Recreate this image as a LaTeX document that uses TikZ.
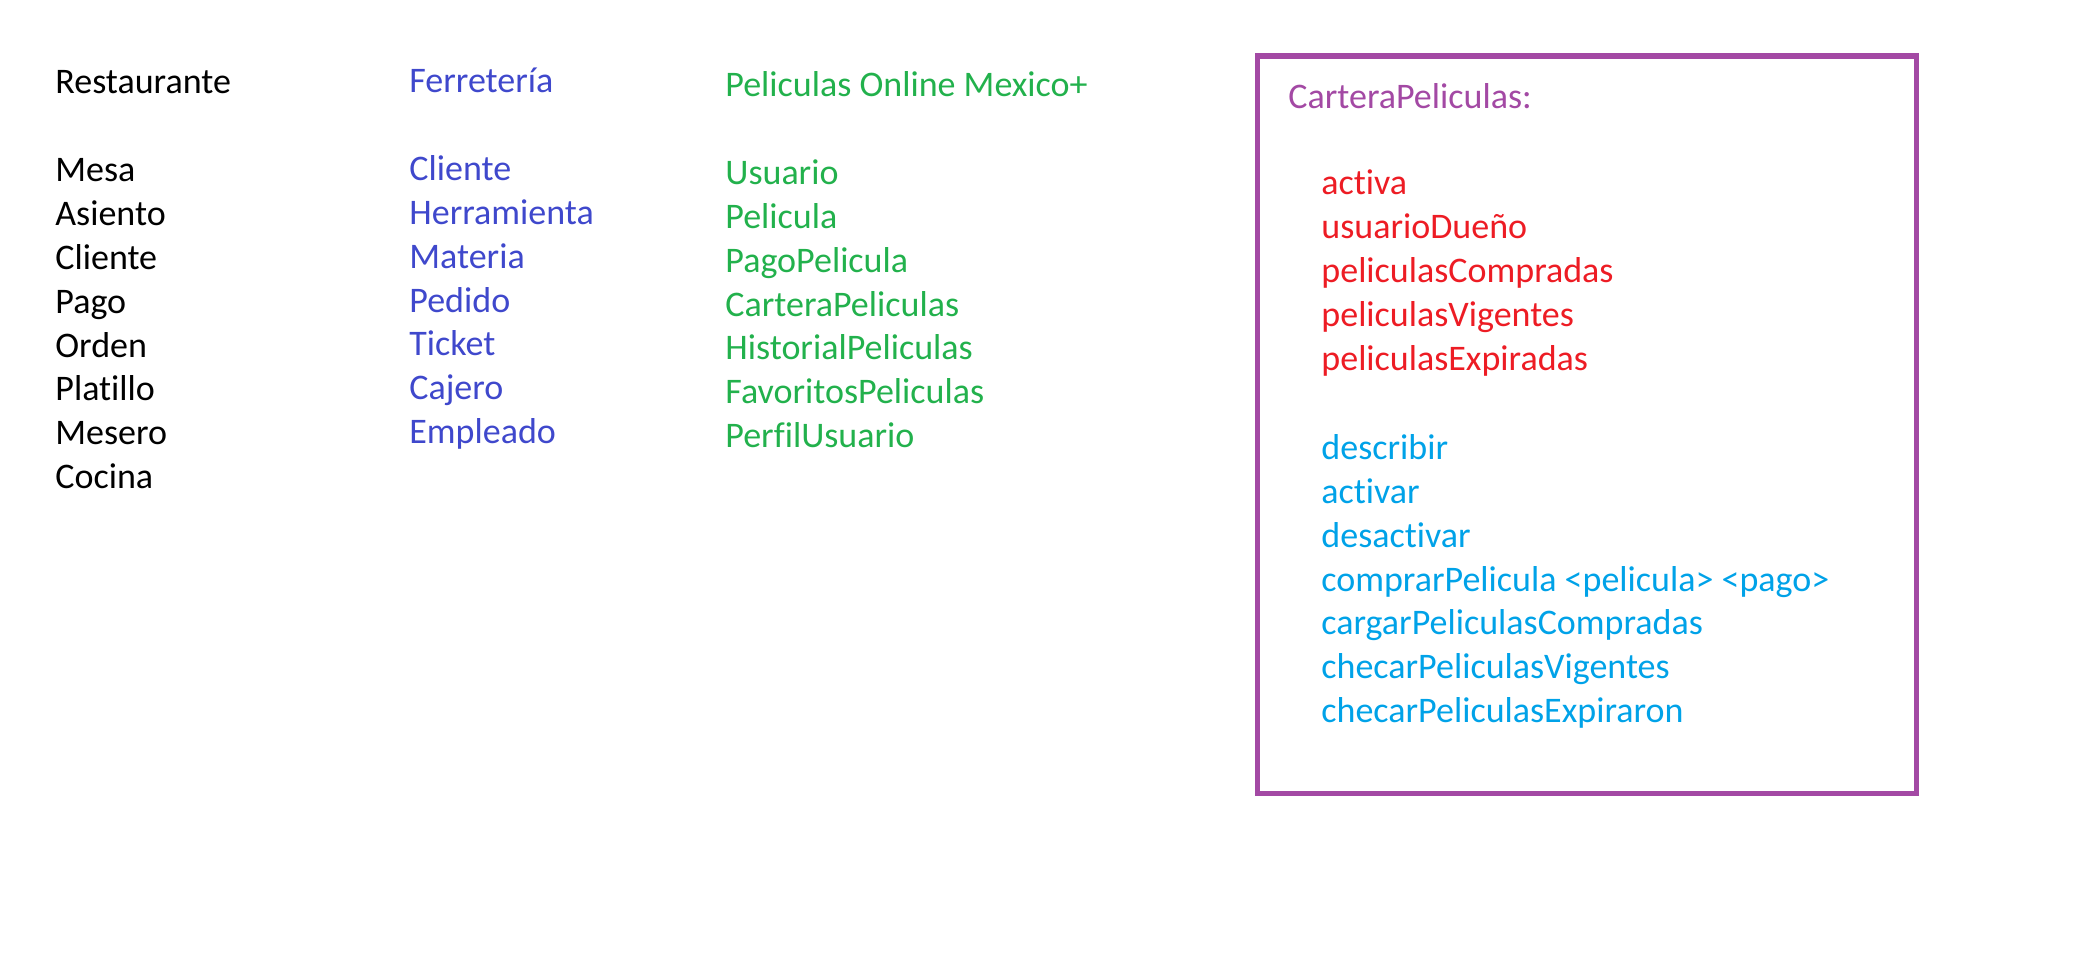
\documentclass[tikz,border=0pt]{standalone}
\usepackage{fontspec}
\setmainfont{Carlito}[Ligatures=NoCommon]
\usetikzlibrary{positioning}
\definecolor{ferreblue}{HTML}{3F48CC}
\definecolor{pelisgreen}{HTML}{22B14C}
\definecolor{attrred}{HTML}{ED1C24}
\definecolor{methodblue}{HTML}{00A2E8}
\definecolor{boxpurple}{HTML}{A349A4}

\begin{document}
\begin{tikzpicture}[x=0.5pt,y=-0.5pt]
\tikzset{
  word/.style={anchor=base west,inner sep=0pt,font=\fontsize{18}{22}\selectfont},
  resto/.style={word,text=black},
  ferre/.style={word,text=ferreblue},
  pelis/.style={word,text=pelisgreen},
  attr/.style={word,text=attrred},
  method/.style={word,text=methodblue},
  classbox/.style={draw=boxpurple,line width=2.6pt}
}
\useasboundingbox (0,0) rectangle (2075,958);
% Restaurante
\node[resto] (r_title) at (55,93) {Restaurante};
\node[resto] (r_mesa) at (55,181.4) {Mesa};
\node[resto] (r_asiento) at (55,225.3) {Asiento};
\node[resto] (r_cliente) at (55,269.2) {Cliente};
\node[resto] (r_pago) at (55,313.1) {Pago};
\node[resto] (r_orden) at (55,357.0) {Orden};
\node[resto] (r_platillo) at (55,400.9) {Platillo};
\node[resto] (r_mesero) at (55,444.8) {Mesero};
\node[resto] (r_cocina) at (55,488.7) {Cocina};
% Ferreteria
\node[ferre] (f_title) at (409,92) {Ferretería};
\node[ferre] (f_cliente) at (409,180.3) {Cliente};
\node[ferre] (f_herramienta) at (409,224.2) {Herramienta};
\node[ferre] (f_materia) at (409,268.1) {Materia};
\node[ferre] (f_pedido) at (409,312.0) {Pedido};
\node[ferre] (f_ticket) at (409,355.9) {Ticket};
\node[ferre] (f_cajero) at (409,399.8) {Cajero};
\node[ferre] (f_empleado) at (409,443.7) {Empleado};
% Peliculas
\node[pelis] (p_title) at (725,96.3) {Peliculas Online Mexico+};
\node[pelis] (p_usuario) at (725,184.3) {Usuario};
\node[pelis] (p_pelicula) at (725,228.2) {Pelicula};
\node[pelis] (p_pago) at (725,272.1) {PagoPelicula};
\node[pelis] (p_cartera) at (725,316.0) {CarteraPeliculas};
\node[pelis] (p_historial) at (725,359.9) {HistorialPeliculas};
\node[pelis] (p_favoritos) at (725,403.8) {FavoritosPeliculas};
\node[pelis] (p_perfil) at (725,447.7) {PerfilUsuario};
% CarteraPeliculas
\draw[classbox] (1257.5,56) rectangle (1916.5,793.5);
\node[word,text=boxpurple] (c_title) at (1288,108.6) {CarteraPeliculas:};
\node[attr] (c_activa) at (1321,194.6) {activa};
\node[attr] (c_dueno) at (1321,238.6) {usuarioDueño};
\node[attr] (c_compradas) at (1321,282.6) {peliculasCompradas};
\node[attr] (c_vigentes) at (1321,326.6) {peliculasVigentes};
\node[attr] (c_expiradas) at (1321,370.6) {peliculasExpiradas};
\node[method] (m_describir) at (1321,459.3) {describir};
\node[method] (m_activar) at (1321,503.2) {activar};
\node[method] (m_desactivar) at (1321,547.1) {desactivar};
\node[method] (m_comprar) at (1321,591.0) {comprarPelicula <pelicula> <pago>};
\node[method] (m_cargar) at (1321,634.9) {cargarPeliculasCompradas};
\node[method] (m_vigentes) at (1321,678.8) {checarPeliculasVigentes};
\node[method] (m_expiraron) at (1321,722.7) {checarPeliculasExpiraron};
\end{tikzpicture}
\end{document}
